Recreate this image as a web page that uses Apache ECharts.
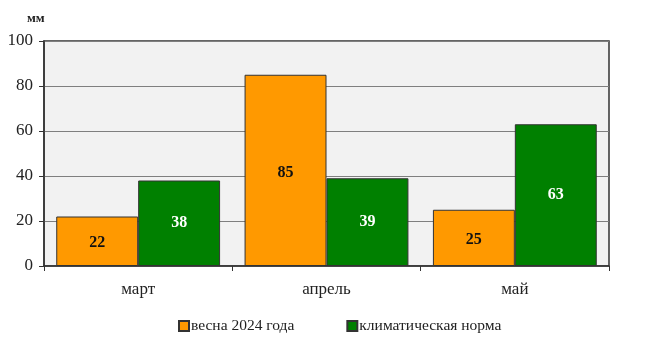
<!DOCTYPE html>
<html>
<head>
<meta charset="utf-8">
<script src="https://cdn.jsdelivr.net/npm/echarts@6/dist/echarts.min.js"></script>
<style>
  html, body { margin: 0; padding: 0; background: #ffffff; }
  #chart { width: 649px; height: 350px; }
</style>
</head>
<body>
<div id="chart"></div>
<script>
// Monthly precipitation, spring 2024 vs climate normal (mm)
const months = ['март', 'апрель', 'май'];
const spring2024 = [22, 85, 25];
const climateNorm = [38, 39, 63];
const yTicks = [0, 20, 40, 60, 80, 100];

const serif = '"Liberation Serif", "DejaVu Serif", serif';

const chart = echarts.init(document.getElementById('chart'), null, { renderer: 'canvas' });

chart.setOption({
  animation: false,
  backgroundColor: '#ffffff',
  textStyle: { fontFamily: serif },
  grid: {
    left: 44, right: 40, top: 41, bottom: 84,
    show: true,
    backgroundColor: '#f2f2f2',
    borderColor: '#333333',
    borderWidth: 1.5
  },
  graphic: [{
    type: 'text',
    left: 27, top: 12,
    style: { text: 'мм', font: 'bold 13px ' + serif, fill: '#222222' }
  }],
  legend: {
    top: 318,
    left: 178,
    padding: 0,
    itemWidth: 10,
    itemHeight: 10,
    itemGap: 52,
    icon: 'rect',
    textStyle: { fontFamily: serif, fontSize: 15.5, color: '#222222', padding: [0, 0, 0, -3] },
    data: ['весна 2024 года', 'климатическая норма']
  },
  xAxis: {
    type: 'category',
    data: months,
    axisLine: { lineStyle: { color: '#333333', width: 1.5 } },
    axisTick: { show: true, length: 5, lineStyle: { color: '#333333' } },
    axisLabel: { fontFamily: serif, fontSize: 17, color: '#222222', margin: 15 }
  },
  yAxis: {
    type: 'value',
    min: yTicks[0],
    max: yTicks[yTicks.length - 1],
    interval: 20,
    axisLine: { show: true, lineStyle: { color: '#333333', width: 1.5 } },
    axisTick: { show: true, length: 5, lineStyle: { color: '#333333' } },
    axisLabel: { fontFamily: serif, fontSize: 17, color: '#222222', margin: 11 },
    splitLine: { show: true, lineStyle: { color: '#7f7f7f', width: 1.2 } }
  },
  series: [
    {
      name: 'весна 2024 года',
      type: 'bar',
      data: spring2024,
      barGap: '0%',
      barCategoryGap: '13%',
      itemStyle: { color: '#ff9900', borderColor: '#333333', borderWidth: 1 },
      label: {
        show: true, position: 'inside', offset: [0, 2],
        fontFamily: serif, fontSize: 16, fontWeight: 'bold', color: '#111111'
      }
    },
    {
      name: 'климатическая норма',
      type: 'bar',
      data: climateNorm,
      itemStyle: { color: '#008000', borderColor: '#333333', borderWidth: 1 },
      label: {
        show: true, position: 'inside',
        fontFamily: serif, fontSize: 16, fontWeight: 'bold', color: '#ffffff'
      }
    }
  ]
});
</script>
</body>
</html>
